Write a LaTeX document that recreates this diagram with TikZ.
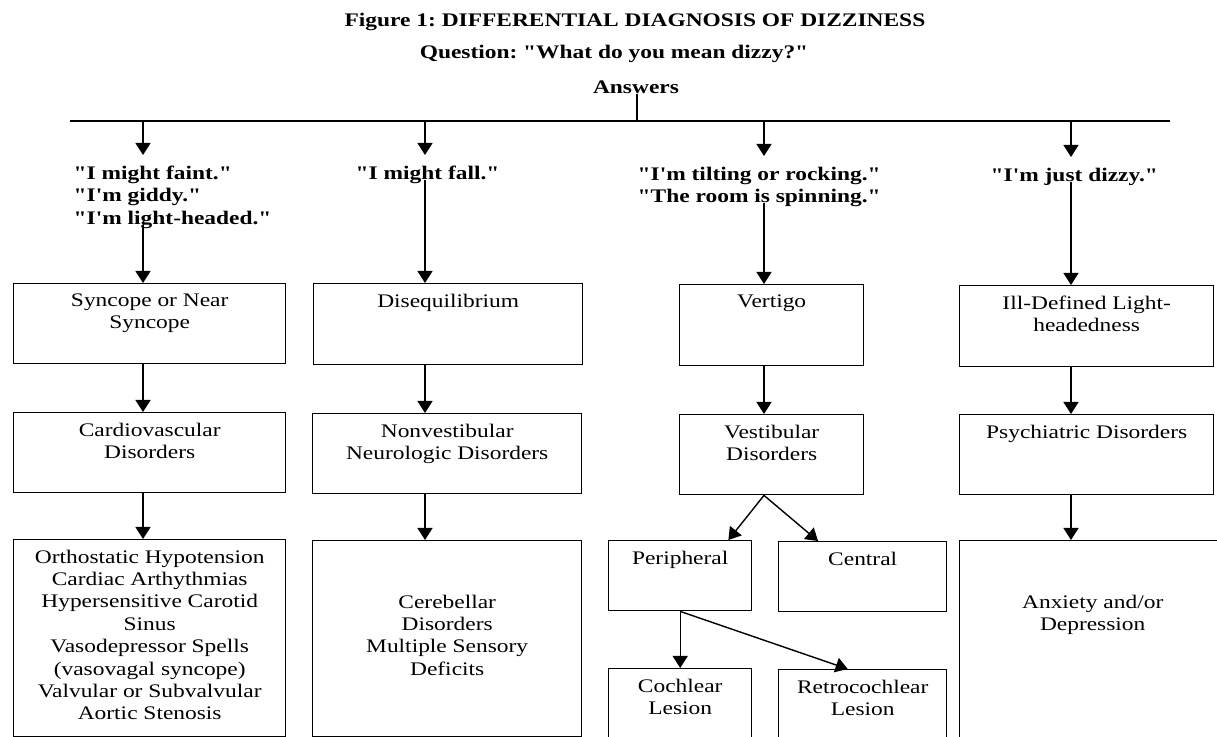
\documentclass[tikz,border=0pt]{standalone}
\usepackage{fontspec}
\setmainfont[FakeStretch=1.22, Ligatures=TeXOff]{Liberation Serif}
\usetikzlibrary{arrows.meta}

\newcommand{\figfont}{\fontsize{9.6}{11.2}\selectfont\frenchspacing}

\tikzset{
    >={Triangle[width=7.5pt,length=6pt]},
    box/.style={draw, inner sep=0pt, anchor=north west},
    boxsize/.style 2 args={minimum width=#1*0.5pt, minimum height=#2*0.5pt},
    lbl/.style={anchor=north, align=center, inner sep=0pt, yshift=-5pt},
    txt/.style={label={[lbl]north:#1}},
    midtxt/.style={label={[lbl, yshift=-22pt]north:#1}},
    quote/.style={font=\figfont\bfseries, align=left, inner sep=0pt, anchor=north west},
    head/.style={font=\figfont\bfseries, inner sep=0pt},
}

\begin{document}
\begin{tikzpicture}[x=0.5pt, y=-0.5pt, font=\figfont, line width=0.7pt]
    \useasboundingbox (0,0) rectangle (1217,737);
    \clip (0,0) rectangle (1217,737);

    % Headings
    \node[head] (title) at (635,22) {Figure 1: DIFFERENTIAL DIAGNOSIS OF DIZZINESS};
    \node[head] (quest) at (614,54) {Question: "What do you mean dizzy?"};
    \node[head] (ans) at (636,87) {Answers};

    % Branch line
    \coordinate (lineL) at (70,121);
    \coordinate (lineR) at (1170,121);
    \coordinate (hub) at (637,121);
    \draw (lineL) -- (lineR);
    \draw (ans.south -| hub) -- (hub);

    % Columns
    \coordinate (c1) at (143,121);
    \coordinate (c2) at (425,121);
    \coordinate (c3) at (764,121);
    \coordinate (c4) at (1071,121);

    % What the patient says
    \node[quote] (q1) at (73,165) {"I might faint."\\"I'm giddy."\\"I'm light-headed."};
    \node[quote] (q2) at (355,165) {"I might fall."};
    \node[quote] (q3) at (637,166) {"I'm tilting or rocking."\\"The room is spinning."};
    \node[quote] (q4) at (990,167) {"I'm just dizzy."};

    % First row
    \node[box, boxsize={272}{80}, txt={Syncope or Near\\Syncope}] (b1) at (13,283) {};
    \node[box, boxsize={269}{81}, txt={Disequilibrium}] (b2) at (313,283) {};
    \node[box, boxsize={184}{81}, txt={Vertigo}] (b3) at (679,284) {};
    \node[box, boxsize={254}{81}, txt={Ill-Defined Light-\\headedness}] (b4) at (959,285) {};

    % Second row
    \node[box, boxsize={272}{80}, txt={Cardiovascular\\Disorders}] (b5) at (13,412) {};
    \node[box, boxsize={269}{80}, txt={Nonvestibular\\Neurologic Disorders}] (b6) at (312,413) {};
    \node[box, boxsize={184}{80}, txt={Vestibular\\Disorders}] (b7) at (679,414) {};
    \node[box, boxsize={254}{80}, txt={Psychiatric Disorders}] (b8) at (959,414) {};

    % Third row
    \node[box, boxsize={272}{197}, txt={Orthostatic Hypotension\\Cardiac Arthythmias\\Hypersensitive Carotid\\Sinus\\Vasodepressor Spells\\(vasovagal syncope)\\Valvular or Subvalvular\\Aortic Stenosis}] (b9) at (13,539) {};
    \node[box, boxsize={269}{196}, midtxt={Cerebellar\\Disorders\\Multiple Sensory\\Deficits}] (b10) at (312,540) {};
    \node[box, boxsize={143}{70}, txt={Peripheral}] (per) at (608,540) {};
    \node[box, boxsize={168}{70}, txt={Central}] (cen) at (778,541) {};
    \node[box, boxsize={266}{230}, midtxt={Anxiety and/or\\Depression}] (anx) at (959,540) {};

    % Fourth row
    \node[box, boxsize={143}{100}, txt={Cochlear\\Lesion}] (coc) at (608,668) {};
    \node[box, boxsize={168}{100}, txt={Retrocochlear\\Lesion}] (ret) at (778,669) {};

    % Arrows
    \foreach \c/\q in {c1/q1, c2/q2, c3/q3, c4/q4}
        \draw[->] (\c) -- ([yshift=5pt]\c |- \q.north);
    \foreach \c/\q/\b in {c1/q1/b1, c2/q2/b2, c3/q3/b3, c4/q4/b4}
        \draw[->] ([yshift=2pt]\q.south -| \c) -- (\c |- \b.north);
    \foreach \c/\a/\b in {c1/b1/b5, c2/b2/b6, c3/b3/b7, c4/b4/b8, c1/b5/b9, c2/b6/b10, c4/b8/anx}
        \draw[->] (\c |- \a.south) -- (\c |- \b.north);
    \draw[->] (c3 |- b7.south) -- ([xshift=-12pt]per.north east);
    \draw[->] (c3 |- b7.south) -- ([xshift=20pt]cen.north west);
    \draw[->] (per.south) -- (coc.north);
    \draw[->] (per.south) -- ([xshift=-7.5pt]ret.north);
\end{tikzpicture}
\end{document}
